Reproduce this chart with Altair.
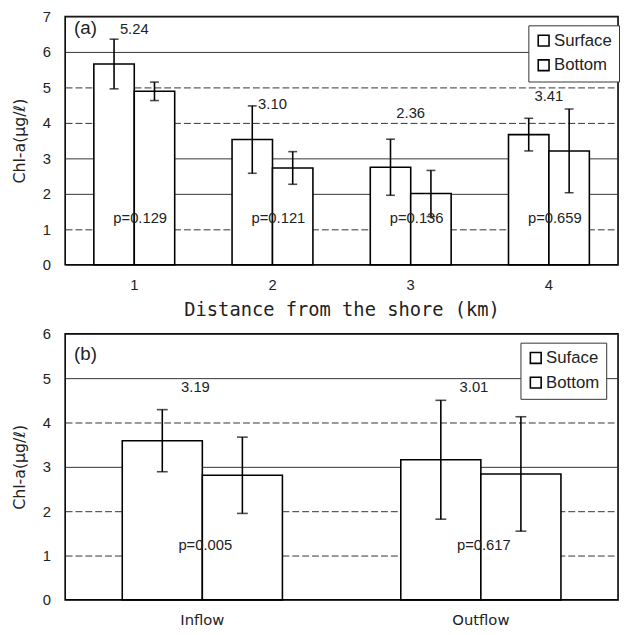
import altair as alt
import pandas as pd

# ---------------- data: panel (a) ----------------
cats_a = ["1", "2", "3", "4"]
series_a = ["Surface", "Bottom"]
surf_mean_a = [5.66, 3.53, 2.75, 3.67]
surf_sd_a = [0.70, 0.95, 0.79, 0.46]
bot_mean_a = [4.89, 2.73, 2.01, 3.21]
bot_sd_a = [0.26, 0.46, 0.65, 1.18]
ann_a = ["5.24", "3.10", "2.36", "3.41"]
ann_y_a = [6.65, 4.52, 4.27, 4.76]
p_a = ["p=0.129", "p=0.121", "p=0.136", "p=0.659"]
p_y_a = [1.33, 1.33, 1.33, 1.33]

# ---------------- data: panel (b) ----------------
cats_b = ["Inflow", "Outflow"]
series_b = ["Suface", "Bottom"]
surf_mean_b = [3.59, 3.16]
surf_sd_b = [0.70, 1.34]
bot_mean_b = [2.81, 2.84]
bot_sd_b = [0.86, 1.29]
ann_b = ["3.19", "3.01"]
ann_y_b = [4.79, 4.79]
p_b = ["p=0.005", "p=0.617"]
p_y_b = [1.23, 1.23]

NUM_FONT = "Liberation Sans"
YTITLE = "Chl-a(μg/ℓ)"


def build(cats, series, sm, ssd, bm, bsd):
    rows = []
    for i, c in enumerate(cats):
        rows.append({"cat": c, "series": series[0], "mean": sm[i],
                     "lo": sm[i] - ssd[i], "hi": sm[i] + ssd[i]})
        rows.append({"cat": c, "series": series[1], "mean": bm[i],
                     "lo": bm[i] - bsd[i], "hi": bm[i] + bsd[i]})
    return pd.DataFrame(rows)


def panel(label, label_y, cats, series, sm, ssd, bm, bsd, ann, ann_y, pv,
          p_y, ymax, height, pad_in, pad_out, xaxis, dashed, leg_x, leg_y,
          cap, ann_dx, p_dx):
    df = build(cats, series, sm, ssd, bm, bsd)
    tdf = pd.DataFrame({"cat": cats, "ann": ann, "ann_y": ann_y,
                        "p": pv, "p_y": p_y})
    test = " || ".join(f"datum.value == {d}" for d in dashed)
    yscale = alt.Scale(domain=[0, ymax], nice=False, zero=True)
    yaxis = alt.Axis(
        values=list(range(0, ymax + 1)), grid=True, gridColor="#333",
        gridWidth=1, labelOverlap=False,
        gridDash={"condition": {"test": test, "value": [7, 3]}, "value": []},
        ticks=False, domain=False, labelFont=NUM_FONT, labelFontSize=15,
        labelColor="#222", labelPadding=15,
        title=YTITLE, titleFont="DejaVu Sans", titleFontSize=16,
        titleFontWeight="normal", titleColor="#222", titlePadding=15,
    )
    xscale = alt.Scale(paddingInner=pad_in, paddingOuter=pad_out)
    xenc = alt.X("cat:N", sort=cats, axis=xaxis, scale=xscale)
    xoff = alt.XOffset("series:N", sort=series,
                       scale=alt.Scale(paddingInner=0, paddingOuter=0))
    base = alt.Chart(df).encode(x=xenc, xOffset=xoff)

    bars = base.mark_bar(stroke="black", strokeWidth=1.6).encode(
        y=alt.Y("mean:Q", scale=yscale, axis=yaxis, title=YTITLE),
        fill=alt.Fill("series:N", sort=series,
                      scale=alt.Scale(domain=series, range=["white", "white"]),
                      legend=alt.Legend(
                          title=None, orient="none", legendX=leg_x,
                          legendY=leg_y, strokeColor="#333",
                          fillColor="white", padding=7,
                          symbolType="square", symbolSize=120,
                          symbolStrokeColor="black", symbolStrokeWidth=1.6,
                          labelFont=NUM_FONT, labelFontSize=17,
                          labelColor="#222", rowPadding=6, labelOffset=2)),
    )
    err = base.mark_rule(color="black", strokeWidth=1.6).encode(
        y=alt.Y("lo:Q", scale=yscale, axis=yaxis, title=YTITLE),
        y2="hi:Q")
    cap_hi = base.mark_tick(color="black", thickness=1.6, size=cap,
                            orient="horizontal").encode(
        y=alt.Y("hi:Q", scale=yscale, axis=yaxis, title=YTITLE))
    cap_lo = base.mark_tick(color="black", thickness=1.6, size=cap,
                            orient="horizontal").encode(
        y=alt.Y("lo:Q", scale=yscale, axis=yaxis, title=YTITLE))

    tbase = alt.Chart(tdf).encode(x=xenc)
    ann_t = tbase.mark_text(font=NUM_FONT, fontSize=15, color="#222",
                            dx=ann_dx).encode(
        y=alt.Y("ann_y:Q", scale=yscale, axis=yaxis, title=YTITLE),
        text="ann:N")
    p_t = tbase.mark_text(font=NUM_FONT, fontSize=15, color="#222",
                          dx=p_dx).encode(
        y=alt.Y("p_y:Q", scale=yscale, axis=yaxis, title=YTITLE),
        text="p:N")
    lab = alt.Chart(pd.DataFrame({"t": [label]})).mark_text(
        font=NUM_FONT, fontSize=19, color="#222", align="left",
        baseline="middle").encode(
        text="t:N", x=alt.value(9), y=alt.value(label_y))

    return alt.layer(bars, err, cap_hi, cap_lo, ann_t, p_t, lab).properties(
        width=561, height=height)


xaxis_a = alt.Axis(labelAngle=0, ticks=False, domain=False,
                   labelFont=NUM_FONT, labelFontSize=15, labelColor="#222",
                   labelPadding=13,
                   title="Distance from the shore (km)",
                   titleFont="DejaVu Sans Mono", titleFontSize=19,
                   titleFontWeight="normal", titleColor="#222",
                   titlePadding=8)
xaxis_b = alt.Axis(labelAngle=0, ticks=False, domain=False,
                   labelFont="DejaVu Sans", labelFontSize=15,
                   labelColor="#222", labelPadding=13, title=None)

pa = panel("(a)", 12, cats_a, series_a, surf_mean_a, surf_sd_a, bot_mean_a,
           bot_sd_a, ann_a, ann_y_a, p_a, p_y_a, 7, 252, 0.415, 0.2075,
           xaxis_a, [1, 4, 5], 470, 9, 9, 0, 6)
pb = panel("(b)", 21, cats_b, series_b, surf_mean_b, surf_sd_b, bot_mean_b,
           bot_sd_b, ann_b, ann_y_b, p_b, p_y_b, 6, 270, 0.425, 0.205,
           xaxis_b, [1, 2, 4], 462, 9, 11, -7, 3)

chart = alt.vconcat(pa, pb, spacing=6).resolve_scale(
    fill="independent", xOffset="independent", x="independent",
    y="independent").resolve_legend(fill="independent").configure_view(
    stroke="black", strokeWidth=1.6).configure_axisY(
    titleFont="DejaVu Sans", titleFontSize=16, titleFontWeight="normal",
    titleColor="#222").properties(
    padding={"left": 2, "top": -4, "right": 0, "bottom": 0},
    background="white")

chart.save("out.html", embed_options={"renderer": "svg", "actions": False})
